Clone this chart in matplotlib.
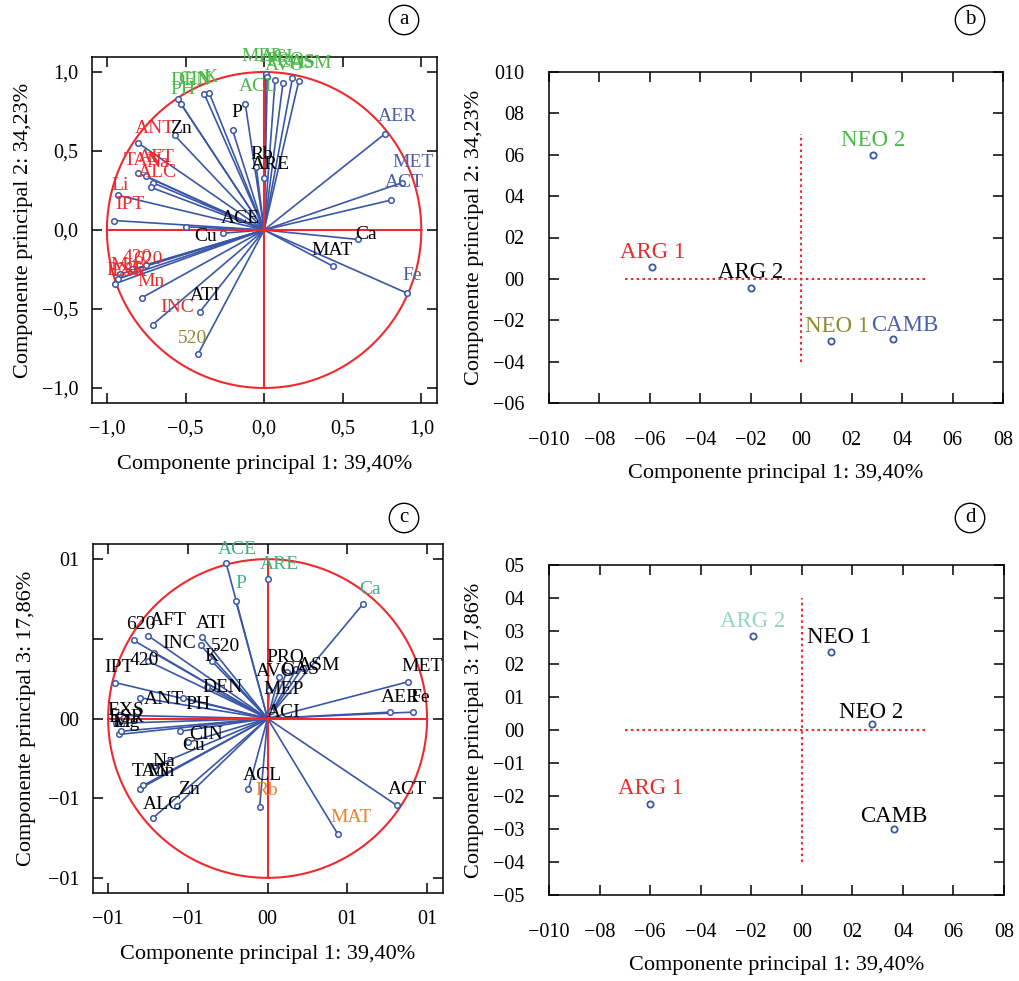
import numpy as np
import matplotlib
matplotlib.use('Agg')
import matplotlib.pyplot as plt

plt.rcParams['font.family'] = ['Liberation Serif', 'DejaVu Serif']

# variable names and loadings
variables = ['MEP', 'ACI', 'AVO', 'PRO', 'CAS', 'ASM', 'ACL', 'DEN', 'CIN', 'K', 'PH',
             'ANT', 'TAN', 'AFT', 'Na', 'ALC', 'Li', 'IPT', '420', '620', 'Mg', 'EXS', 'ESR', 'Mn', 'INC',
             'Zn', 'P', 'Rb', 'ARE', 'ACE', 'Cu', 'Ca', 'MAT', 'ATI', '520',
             'AER', 'MET', 'ACT', 'Fe']
pc1 = [0.01, 0.02, 0.07, 0.12, 0.18, 0.22, -0.12, -0.38, -0.55, -0.35, -0.53,
       -0.80, -0.80, -0.75, -0.71, -0.72, -0.93, -0.955, -0.75, -0.84, -0.92, -0.93, -0.95, -0.78, -0.71,
       -0.57, -0.20, -0.05, 0.00, -0.26, -0.50, 0.60, 0.44, -0.41, -0.42,
       0.77, 0.88, 0.81, 0.91]
pc2 = [0.99, 0.97, 0.95, 0.93, 0.96, 0.94, 0.80, 0.86, 0.83, 0.87, 0.80,
       0.55, 0.36, 0.34, 0.30, 0.27, 0.22, 0.06, -0.22, -0.25, -0.28, -0.31, -0.34, -0.43, -0.60,
       0.60, 0.63, 0.40, 0.33, -0.02, 0.02, -0.06, -0.23, -0.52, -0.785,
       0.61, 0.30, 0.19, -0.40]
pc3 = [0.18, 0.05, 0.26, 0.29, 0.31, 0.32, -0.44, 0.20, -0.08, 0.36, 0.13,
       0.13, -0.44, 0.52, -0.30, -0.625, -0.10, 0.225, 0.36, 0.49, -0.08, 0.02, -0.03, -0.42, 0.41,
       -0.55, 0.74, -0.555, 0.875, 0.975, -0.15, 0.72, -0.725, 0.51, 0.46,
       0.04, 0.23, -0.545, 0.04]

# group colours of the labels
groups_a = {'green': ['MEP', 'ACI', 'AVO', 'PRO', 'CAS', 'ASM', 'ACL', 'DEN', 'CIN', 'K', 'PH'],
            'red': ['ANT', 'TAN', 'AFT', 'Na', 'ALC', 'Li', 'IPT', '420', '620', 'Mg', 'EXS', 'ESR', 'Mn', 'INC'],
            'olive': ['520'],
            'blue': ['AER', 'MET', 'ACT', 'Fe']}
groups_c = {'green2': ['ACE', 'ARE', 'P', 'Ca'],
            'orange': ['Rb', 'MAT']}

# sample scores
samples = ['ARG 1', 'ARG 2', 'NEO 1', 'NEO 2', 'CAMB']
score1 = [-0.59, -0.20, 0.118, 0.285, 0.364]
score2 = [0.058, -0.043, -0.30, 0.60, -0.29]
score1_d = [-0.60, -0.194, 0.117, 0.276, 0.365]
score3 = [-0.224, 0.285, 0.236, 0.018, -0.30]

colors = {'green': '#4cb848', 'red': '#ee2a2f', 'olive': '#8c8c2f', 'blue': '#4b5fa8',
          'green2': '#3db37a', 'orange': '#f47b30', 'teal': '#93d6bd', 'black': 'black'}
LINE = '#3a57a7'
RED = '#ee2a2f'

# label offsets (pixels) from the end of each vector
off_a = {'ANT': (17, 15), 'Zn': (6, 7), 'Cu': (20, -10), 'Ca': (8, 5), 'ACE': (17, 15), 'Rb': (6, 12),
         'ARE': (6, 13), 'P': (4, 18), 'ACL': (13, 17), 'IPT': (16, 16), 'Li': (2, 10), 'TAN': (5, 13),
         'AFT': (10, 19), 'Na': (5, 20), 'ALC': (6, 15), '420': (-9, 7), '620': (16, 10), 'Mg': (5, 9),
         'EXS': (7, 8), 'ESR': (15, 12), 'Mn': (10, 16), 'INC': (25, 17), 'ATI': (5, 17), '520': (-6, 16),
         'MAT': (-1, 16), 'Fe': (5, 18), 'AER': (12, 17), 'MET': (11, 20), 'ACT': (13, 17),
         'DEN': (-14, 14), 'CIN': (17, 19), 'K': (1, 15), 'PH': (2, 14), 'MEP': (-4, 17), 'ACI': (9, 19),
         'AVO': (10, 14), 'PRO': (2, 23), 'CAS': (4, 16), 'ASM': (12, 18)}
off_c = {'ACE': (11, 14), 'ARE': (12, 15), 'P': (5, 17), 'Ca': (7, 14), '620': (7, 16), 'AFT': (20, 15),
         'INC': (25, 10), 'ATI': (9, 14), '520': (25, -1), 'K': (0, 5), '420': (-4, 1), 'IPT': (4, 15),
         'PRO': (-1, 15), 'AVO': (-3, 6), 'CAS': (4, 0), 'ASM': (16, 2), 'MET': (14, 15), 'Fe': (7, 15),
         'AER': (10, 15), 'MEP': (14, 0), 'ACI': (13, -2), 'DEN': (16, -1), 'ANT': (24, -2), 'PH': (15, -7),
         'EXS': (7, 5), 'ESR': (10, 6), 'Mg': (5, 9), 'Li': (3, 12), 'CIN': (26, -3), 'Cu': (6, -3),
         'Na': (9, 5), 'TAN': (11, 17), 'Mn': (18, 14), 'Zn': (12, 17), 'ALC': (10, 14), 'ACL': (14, 13),
         'Rb': (7, 16), 'MAT': (13, 17), 'ACT': (11, 16)}


def label_color(name, groups):
    for g, names in groups.items():
        if name in names:
            return colors[g]
    return 'black'


def style_axes(ax, xt, xl, yt, yl, xpad, ypad):
    ax.set_xticks(xt)
    ax.set_xticklabels(xl, fontsize=14.5)
    ax.set_yticks(yt)
    ax.set_yticklabels(yl, fontsize=14.5)
    ax.tick_params(direction='in', top=True, right=True, length=7, width=1.1)
    ax.tick_params(axis='x', pad=xpad)
    ax.tick_params(axis='y', pad=ypad)
    for s in ax.spines.values():
        s.set_linewidth(1.1)


def loading_plot(ax, pcy, offsets, groups):
    t = np.linspace(0, 2 * np.pi, 400)
    ax.plot(np.cos(t), np.sin(t), color=RED, lw=1.5, zorder=3)
    ax.plot([-1, 1], [0, 0], color=RED, lw=1.5, zorder=3)
    ax.plot([0, 0], [-1, 1], color=RED, lw=1.5, zorder=3)
    for name, x, y in zip(variables, pc1, pcy):
        ax.plot([0, x], [0, y], color=LINE, lw=1.2, zorder=2)
        ax.plot(x, y, 'o', ms=4, mfc='white', mec=LINE, mew=1.1, zorder=4)
        dx, dy = offsets.get(name, (6, 15))
        ax.annotate(name, (x, y), xytext=(dx, dy), textcoords='offset pixels',
                    ha='center', va='center', fontsize=14,
                    color=label_color(name, groups), zorder=5)
    ax.set_xlim(-1.095, 1.1)
    ax.set_ylim(-1.095, 1.095)


def score_plot(ax, sx, sy, label_cols, label_offs, ylim):
    ax.plot(sx, sy, 'o', ms=4.5, mfc='white', mec=LINE, mew=1.3, ls='none', zorder=3)
    for name, x, y, c, o in zip(samples, sx, sy, label_cols, label_offs):
        ax.annotate(name, (x, y), xytext=o, textcoords='offset pixels',
                    ha='center', va='center', fontsize=16.5, color=colors[c])
    ax.set_xlim(-1.0, 0.8)
    ax.set_ylim(*ylim)


fig = plt.figure(figsize=(10.19, 9.81), dpi=100)
W, H = 1019, 981

def add_ax(l, t, r, b):
    return fig.add_axes([l / W, 1 - b / H, (r - l) / W, (b - t) / H])

ax_a = add_ax(92, 57, 437, 403)
ax_b = add_ax(549, 72, 1003, 403)
ax_c = add_ax(93, 544, 443, 893)
ax_d = add_ax(549, 565, 1004, 895)

# (a)
loading_plot(ax_a, pc2, off_a, groups_a)
style_axes(ax_a, [-1, -0.5, 0, 0.5, 1], ['\u22121,0', '\u22120,5', '0,0', '0,5', '1,0'],
           [-1, -0.5, 0, 0.5, 1], ['\u22121,0', '\u22120,5', '0,0', '0,5', '1,0'], 12, 10)
ax_a.set_xlabel('Componente principal 1: 39,40%', fontsize=16, labelpad=12)
ax_a.set_ylabel('Componente principal 2: 34,23%', fontsize=16, labelpad=6)

# (c)
loading_plot(ax_c, pc3, off_c, groups_c)
style_axes(ax_c, [-1, -0.5, 0, 0.5, 1], ['\u221201', '\u221201', '00', '01', '01'],
           [-1, -0.5, 0, 0.5, 1], ['\u221201', '\u221201', '00', '', '01'], 12, 10)
ax_c.set_xlabel('Componente principal 1: 39,40%', fontsize=16, labelpad=12)
ax_c.set_ylabel('Componente principal 3: 17,86%', fontsize=16, labelpad=8)

# (b)
ax_b.plot([-0.70, 0.50], [0, 0], ls=(0, (1.2, 1.6)), color=RED, lw=1.5)
ax_b.plot([0, 0], [-0.40, 0.70], ls=(0, (1.2, 1.6)), color=RED, lw=1.5)
score_plot(ax_b, score1, score2, ['red', 'black', 'olive', 'green', 'blue'],
           [(0, 14), (0, 15), (6, 14), (0, 14), (12, 13)], (-0.6, 1.0))
xt = [-1.0, -0.8, -0.6, -0.4, -0.2, 0, 0.2, 0.4, 0.6, 0.8]
xl = ['\u2212010', '\u221208', '\u221206', '\u221204', '\u221202', '00', '02', '04', '06', '08']
style_axes(ax_b, xt, xl, [-0.6, -0.4, -0.2, 0, 0.2, 0.4, 0.6, 0.8, 1.0],
           ['\u221206', '\u221204', '\u221202', '00', '02', '04', '06', '08', '010'], 20, 18)
ax_b.set_xlabel('Componente principal 1: 39,40%', fontsize=16, labelpad=10)
ax_b.set_ylabel('Componente principal 2: 34,23%', fontsize=16, labelpad=6)

# (d)
ax_d.plot([-0.70, 0.50], [0, 0], ls=(0, (1.2, 1.6)), color=RED, lw=1.5)
ax_d.plot([0, 0], [-0.40, 0.40], ls=(0, (1.2, 1.6)), color=RED, lw=1.5)
score_plot(ax_d, score1_d, score3, ['red', 'teal', 'black', 'black', 'black'],
           [(0, 15), (0, 14), (8, 15), (0, 12), (0, 13)], (-0.5, 0.5))
style_axes(ax_d, xt, xl, [-0.5, -0.4, -0.3, -0.2, -0.1, 0, 0.1, 0.2, 0.3, 0.4, 0.5],
           ['\u221205', '\u221204', '\u221203', '\u221202', '\u221201', '00', '01', '02', '03', '04', '05'], 20, 18)
ax_d.set_xlabel('Componente principal 1: 39,40%', fontsize=16, labelpad=10)
ax_d.set_ylabel('Componente principal 3: 17,86%', fontsize=16, labelpad=6)

# panel letters
for letter, px, py in [('a', 404, 20), ('b', 970, 20), ('c', 404, 518), ('d', 970, 518)]:
    fig.text(px / W, 1 - py / H, letter, ha='center', va='center', fontsize=15,
             bbox=dict(boxstyle='circle,pad=0.25', fc='white', ec='black', lw=1.0))

fig.savefig('out.png', dpi=100)
